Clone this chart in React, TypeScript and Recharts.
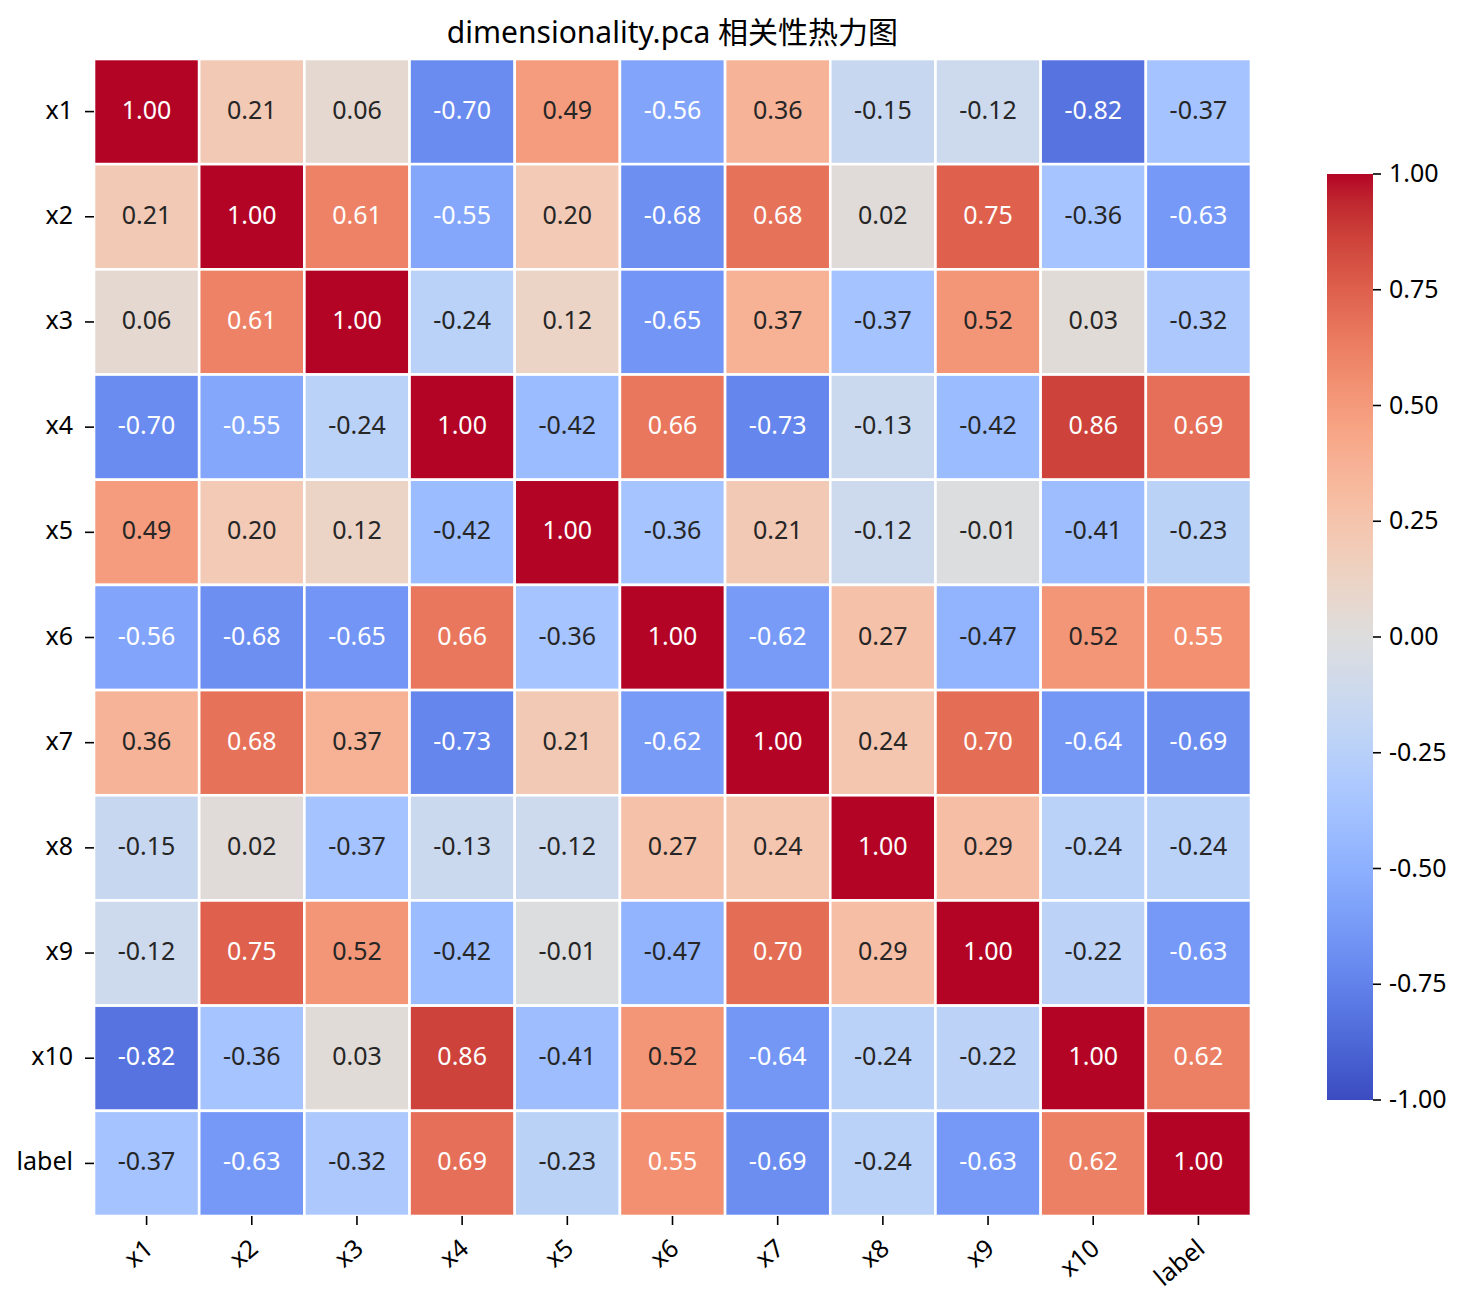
import React from "react";
import { ScatterChart, Scatter, XAxis, YAxis } from "recharts";

// ---- data ----
const variables = ["x1", "x2", "x3", "x4", "x5", "x6", "x7", "x8", "x9", "x10", "label"];

const rowX1 = [1.0, 0.21, 0.06, -0.7, 0.49, -0.56, 0.36, -0.15, -0.12, -0.82, -0.37];
const rowX2 = [0.21, 1.0, 0.61, -0.55, 0.2, -0.68, 0.68, 0.02, 0.75, -0.36, -0.63];
const rowX3 = [0.06, 0.61, 1.0, -0.24, 0.12, -0.65, 0.37, -0.37, 0.52, 0.03, -0.32];
const rowX4 = [-0.7, -0.55, -0.24, 1.0, -0.42, 0.66, -0.73, -0.13, -0.42, 0.86, 0.69];
const rowX5 = [0.49, 0.2, 0.12, -0.42, 1.0, -0.36, 0.21, -0.12, -0.01, -0.41, -0.23];
const rowX6 = [-0.56, -0.68, -0.65, 0.66, -0.36, 1.0, -0.62, 0.27, -0.47, 0.52, 0.55];
const rowX7 = [0.36, 0.68, 0.37, -0.73, 0.21, -0.62, 1.0, 0.24, 0.7, -0.64, -0.69];
const rowX8 = [-0.15, 0.02, -0.37, -0.13, -0.12, 0.27, 0.24, 1.0, 0.29, -0.24, -0.24];
const rowX9 = [-0.12, 0.75, 0.52, -0.42, -0.01, -0.47, 0.7, 0.29, 1.0, -0.22, -0.63];
const rowX10 = [-0.82, -0.36, 0.03, 0.86, -0.41, 0.52, -0.64, -0.24, -0.22, 1.0, 0.62];
const rowLabel = [-0.37, -0.63, -0.32, 0.69, -0.23, 0.55, -0.69, -0.24, -0.63, 0.62, 1.0];

const matrixRows = [rowX1, rowX2, rowX3, rowX4, rowX5, rowX6, rowX7, rowX8, rowX9, rowX10, rowLabel];

const colorbarTicks = [1.0, 0.75, 0.5, 0.25, 0.0, -0.25, -0.5, -0.75, -1.0];

const TITLE = "dimensionality.pca 相关性热力图";

// ---- coolwarm colormap (33 control points, from -1 to 1) ----
const COOLWARM: [number, number, number][] = [
  [59, 76, 192], [68, 90, 204], [77, 104, 215], [87, 117, 225], [98, 130, 234],
  [108, 142, 241], [119, 154, 247], [130, 165, 251], [141, 176, 254], [152, 185, 255],
  [163, 194, 255], [174, 201, 253], [184, 208, 249], [194, 213, 244], [204, 217, 238],
  [213, 219, 230], [221, 221, 221], [229, 216, 209], [236, 211, 197], [241, 204, 184],
  [245, 196, 173], [247, 187, 160], [247, 177, 148], [247, 166, 135], [244, 154, 123],
  [241, 141, 111], [236, 127, 99], [229, 112, 88], [222, 96, 77], [213, 80, 66],
  [203, 62, 56], [192, 40, 47], [180, 4, 38],
];

function coolwarmRGB(v: number): [number, number, number] {
  const t = Math.max(0, Math.min(1, (v + 1) / 2)) * (COOLWARM.length - 1);
  const i = Math.min(COOLWARM.length - 2, Math.floor(t));
  const f = t - i;
  const a = COOLWARM[i];
  const b = COOLWARM[i + 1];
  return [0, 1, 2].map((k) => Math.round(a[k] + (b[k] - a[k]) * f)) as [number, number, number];
}

function rgbStr(c: [number, number, number]) {
  return `rgb(${c[0]},${c[1]},${c[2]})`;
}

// dark annotation text on light cells, white on dark ones
function textColorFor(c: [number, number, number]) {
  const lin = c.map((x) => {
    const s = x / 255;
    return s <= 0.03928 ? s / 12.92 : Math.pow((s + 0.055) / 1.055, 2.4);
  });
  const lum = 0.2126 * lin[0] + 0.7152 * lin[1] + 0.0722 * lin[2];
  return lum > 0.408 ? "#262626" : "#ffffff";
}

const cells = matrixRows.flatMap((row, r) =>
  row.map((value, c) => ({ col: c + 0.5, row: r + 0.5, value }))
);

// ---- layout ----
const FONT = "'Noto Sans', 'Noto Sans CJK SC', sans-serif";
const W = 1461;
const H = 1290;
const PLOT_LEFT = 86;
const PLOT_TOP = 51;
const PLOT_SIZE = 1157;
const Y_AXIS_W = 60;
const X_AXIS_H = 70;
const N = variables.length;
const PITCH = PLOT_SIZE / N;
const tickPositions = variables.map((_, i) => i + 0.5);

const CB_X = 1319;
const CB_W = 46;
const CB_TOP = 166;
const CB_BOTTOM = 1092;
const cbY = (v: number) => CB_BOTTOM - ((v + 1) / 2) * (CB_BOTTOM - CB_TOP);

const HeatCell = (props: any) => {
  const { cx, cy, payload } = props;
  if (cx == null || cy == null) return null;
  const col = coolwarmRGB(payload.value);
  return (
    <g>
      <rect
        x={cx - PITCH / 2}
        y={cy - PITCH / 2}
        width={PITCH}
        height={PITCH}
        fill={rgbStr(col)}
        stroke="#ffffff"
        strokeWidth={2.6}
      />
      <text
        x={cx}
        y={cy - 3}
        textAnchor="middle"
        dominantBaseline="central"
        fontFamily={FONT}
        fontSize={25}
        fill={textColorFor(col)}
      >
        {payload.value.toFixed(2)}
      </text>
    </g>
  );
};

const XTick = (props: any) => {
  const { x, y, payload } = props;
  const label = variables[Math.round(payload.value - 0.5)];
  return (
    <text
      transform={`translate(${x + 8},${y + 26}) rotate(-40)`}
      textAnchor="end"
      fontFamily={FONT}
      fontSize={25}
      fill="#000"
    >
      {label}
    </text>
  );
};

const YTick = (props: any) => {
  const { x, y, payload } = props;
  const label = variables[Math.round(payload.value - 0.5)];
  return (
    <text
      x={x}
      y={y - 3}
      textAnchor="end"
      dominantBaseline="central"
      fontFamily={FONT}
      fontSize={25}
      fill="#000"
    >
      {label}
    </text>
  );
};

export default function App() {
  const gradStops = COOLWARM.map((c, i) => (
    <stop key={i} offset={`${(i / (COOLWARM.length - 1)) * 100}%`} stopColor={rgbStr(c)} />
  ));
  return (
    <div style={{ position: "relative", width: W, height: H, background: "#fff" }}>
      <ScatterChart
        width={W}
        height={H}
        margin={{
          top: PLOT_TOP,
          left: PLOT_LEFT - Y_AXIS_W,
          right: W - PLOT_LEFT - PLOT_SIZE,
          bottom: H - PLOT_TOP - PLOT_SIZE - X_AXIS_H,
        }}
      >
        <XAxis
          type="number"
          dataKey="col"
          domain={[0, N]}
          ticks={tickPositions}
          interval={0}
          axisLine={false}
          tickLine={{ stroke: "#000", strokeWidth: 1.6 }}
          tickSize={9}
          tickMargin={0}
          height={X_AXIS_H}
          tick={<XTick />}
          allowDataOverflow
        />
        <YAxis
          type="number"
          dataKey="row"
          domain={[0, N]}
          reversed
          ticks={tickPositions}
          interval={0}
          axisLine={false}
          tickLine={{ stroke: "#000", strokeWidth: 1.6 }}
          tickSize={9}
          tickMargin={12}
          width={Y_AXIS_W}
          tick={<YTick />}
          allowDataOverflow
        />
        <Scatter data={cells} shape={<HeatCell />} isAnimationActive={false} />
      </ScatterChart>
      <svg
        width={W}
        height={H}
        style={{ position: "absolute", left: 0, top: 0, pointerEvents: "none" }}
      >
        <defs>
          <linearGradient id="cwGrad" x1="0" y1="1" x2="0" y2="0">
            {gradStops}
          </linearGradient>
        </defs>
        <text
          x={PLOT_LEFT + PLOT_SIZE / 2}
          y={23}
          textAnchor="middle"
          dominantBaseline="central"
          fontFamily={FONT}
          fontSize={30}
          fill="#000"
        >
          {TITLE}
        </text>
        <rect x={CB_X} y={CB_TOP} width={CB_W} height={CB_BOTTOM - CB_TOP} fill="url(#cwGrad)" />
        {colorbarTicks.map((v) => (
          <g key={v}>
            <line
              x1={CB_X + CB_W}
              x2={CB_X + CB_W + 8}
              y1={cbY(v)}
              y2={cbY(v)}
              stroke="#000"
              strokeWidth={1.6}
            />
            <text
              x={CB_X + CB_W + 16}
              y={cbY(v) - 2}
              dominantBaseline="central"
              fontFamily={FONT}
              fontSize={25}
              fill="#000"
            >
              {v.toFixed(2)}
            </text>
          </g>
        ))}
      </svg>
    </div>
  );
}
